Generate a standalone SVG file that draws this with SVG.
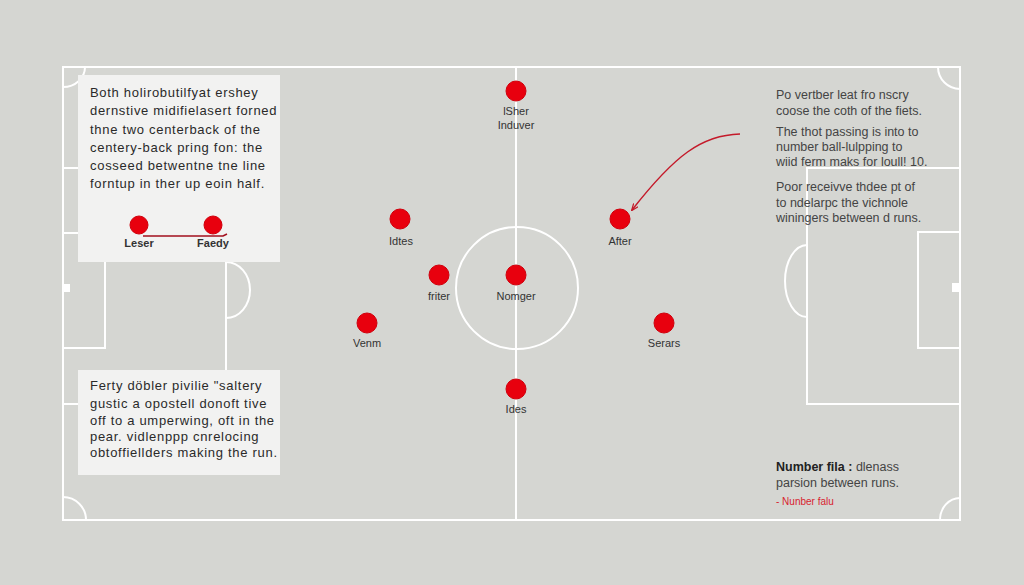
<svg xmlns="http://www.w3.org/2000/svg" width="1024" height="585" viewBox="0 0 1024 585">
<defs>
<style>
.pitch{fill:none;stroke:#ffffff;stroke-width:2}
.box{fill:#f2f2f1}
.node{fill:#e8000e;stroke:#d0000c;stroke-width:1}
.lbl{font-family:"Liberation Sans",Arial,sans-serif;font-size:11px;fill:#333;text-anchor:middle}
.txt{font-family:"Liberation Sans",Arial,sans-serif;font-size:13px;fill:#2a2a2a;letter-spacing:0.7px}
.rtxt{font-family:"Liberation Sans",Arial,sans-serif;font-size:12.5px;fill:#444}
.conn{fill:none;stroke:#c41a2a;stroke-width:1.5}
</style>
<marker id="arr" viewBox="0 0 10 10" refX="9" refY="5" markerWidth="7" markerHeight="7" orient="auto" markerUnits="userSpaceOnUse">
<path d="M0,1 L10,5 L0,9" fill="none" stroke="#c41a2a" stroke-width="1.8"/>
</marker>
</defs>
<rect width="1024" height="585" fill="#d5d6d2"/>
<g id="pitch">
<rect class="pitch" x="63" y="67" width="897" height="453"/>
<line class="pitch" x1="516" y1="67" x2="516" y2="520"/>
<circle class="pitch" cx="517" cy="288" r="61"/>
<rect class="pitch" x="63" y="168" width="163" height="236"/>
<rect class="pitch" x="63" y="233" width="42" height="115"/>
<rect x="63" y="284" width="7" height="8" fill="#ffffff"/>
<path class="pitch" d="M226,262 A24,28 0 0 1 226,318"/>
<rect class="pitch" x="807" y="168" width="153" height="236"/>
<rect class="pitch" x="918" y="232" width="42" height="116"/>
<rect x="952" y="283" width="8" height="9" fill="#ffffff"/>
<path class="pitch" d="M807,245 A22,36 0 0 0 807,317"/>
<path class="pitch" d="M85,67 A22,20 0 0 1 63,87"/>
<path class="pitch" d="M938,67 A22,22 0 0 0 960,89"/>
<path class="pitch" d="M63,497 A23,23 0 0 1 86,520"/>
<path class="pitch" d="M940,520 A20,22 0 0 1 960,498"/>
</g>
<g id="box-top-left">
<rect class="box" x="78" y="75" width="202" height="187"/>
<text class="txt" x="90" y="97">Both holirobutilfyat ershey</text>
<text class="txt" x="90" y="115">dernstive midifielasert forned</text>
<text class="txt" x="90" y="134">thne two centerback of the</text>
<text class="txt" x="90" y="152">centery-back pring fon: the</text>
<text class="txt" x="90" y="170">cosseed betwentne tne line</text>
<text class="txt" x="90" y="188">forntup in ther up eoin half.</text>
</g>
<g id="box-bottom-left">
<rect class="box" x="78" y="370" width="202" height="105"/>
<text class="txt" x="90" y="390">Ferty döbler pivilie "saltery</text>
<text class="txt" x="90" y="408">gustic a opostell donoft tive</text>
<text class="txt" x="90" y="425">off to a umperwing, oft in the</text>
<text class="txt" x="90" y="441">pear. vidlenppp cnrelocing</text>
<text class="txt" x="90" y="457">obtoffiellders making the run.</text>
</g>
<g id="connectors">
<path d="M143,236 L223,236 L227,234" fill="none" stroke="#a3101e" stroke-width="1.6"/>
<path class="conn" d="M740,134 C702,135 675,155 632,210" marker-end="url(#arr)"/>
</g>
<g id="node-leser"><circle class="node" cx="139" cy="225" r="9"/><text class="lbl" x="139" y="247" font-weight="bold">Leser</text></g>
<g id="node-faedy"><circle class="node" cx="213" cy="225" r="9"/><text class="lbl" x="213" y="247" font-weight="bold">Faedy</text></g>
<g id="node-isher"><circle class="node" cx="516" cy="91" r="10"/><text class="lbl" x="516" y="115">lSher</text><text class="lbl" x="516" y="129">Induver</text></g>
<g id="node-idtes"><circle class="node" cx="400" cy="219" r="10"/><text class="lbl" x="401" y="245">Idtes</text></g>
<g id="node-after"><circle class="node" cx="620" cy="219" r="10"/><text class="lbl" x="620" y="245">After</text></g>
<g id="node-friter"><circle class="node" cx="439" cy="275" r="10"/><text class="lbl" x="439" y="300">friter</text></g>
<g id="node-nomger"><circle class="node" cx="516" cy="275" r="10"/><text class="lbl" x="516" y="300">Nomger</text></g>
<g id="node-venm"><circle class="node" cx="367" cy="323" r="10"/><text class="lbl" x="367" y="347">Venm</text></g>
<g id="node-serars"><circle class="node" cx="664" cy="323" r="10"/><text class="lbl" x="664" y="347">Serars</text></g>
<g id="node-ides"><circle class="node" cx="516" cy="389" r="10"/><text class="lbl" x="516" y="413">Ides</text></g>
<g id="text-right">
<text class="rtxt" x="776" y="99">Po vertber leat fro nscry</text>
<text class="rtxt" x="776" y="115">coose the coth of the fiets.</text>
<text class="rtxt" x="776" y="136">The thot passing is into to</text>
<text class="rtxt" x="776" y="151">number ball-lulpping to</text>
<text class="rtxt" x="776" y="166">wiid ferm maks for loull! 10.</text>
<text class="rtxt" x="776" y="191">Poor receivve thdee pt of</text>
<text class="rtxt" x="776" y="207">to ndelarpc the vichnole</text>
<text class="rtxt" x="776" y="222">winingers between d runs.</text>
</g>
<g id="legend">
<text class="rtxt" x="776" y="471"><tspan font-weight="bold" fill="#222">Number fila :</tspan> dlenass</text>
<text class="rtxt" x="776" y="487">parsion between runs.</text>
<text x="776" y="505" font-family="Liberation Sans, Arial, sans-serif" font-size="10" fill="#d8232f">- Nunber falu</text>
</g>
</svg>
